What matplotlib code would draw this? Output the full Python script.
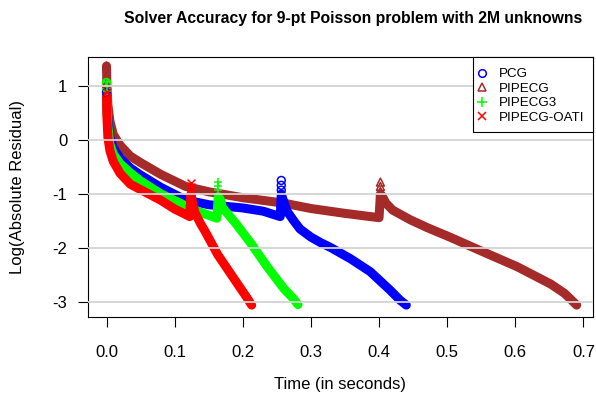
import matplotlib
matplotlib.use("Agg")
import matplotlib.pyplot as plt
from matplotlib.lines import Line2D
from matplotlib.patches import Rectangle

plt.rcParams["font.family"] = ["Liberation Sans", "DejaVu Sans"]

# ----------------------------
# Residual history (log10) per solver, time in seconds
# ----------------------------
# PIPECG
pipecg_t = [0.0, 0.0005, 0.002, 0.005, 0.010, 0.020, 0.035, 0.050, 0.080, 0.116,
            0.150, 0.200, 0.260, 0.300, 0.350, 0.400, 0.402, 0.405, 0.410, 0.420,
            0.446, 0.470, 0.504, 0.554, 0.603, 0.652, 0.672, 0.682, 0.690]
pipecg_r = [1.37, 1.00, 0.65, 0.35, 0.10, -0.10, -0.30, -0.42, -0.64, -0.86,
            -0.96, -1.07, -1.17, -1.27, -1.36, -1.44, -1.00, -1.05, -1.17, -1.30,
            -1.48, -1.62, -1.80, -2.08, -2.35, -2.67, -2.84, -2.96, -3.06]
pipecg_mk_t = [0.0, 0.0, 0.0, 0.402, 0.402, 0.402]
pipecg_mk_r = [1.37, 1.05, 0.90, -0.78, -0.86, -0.95]

# PCG
pcg_t = [0.0, 0.0005, 0.002, 0.005, 0.010, 0.020, 0.035, 0.050, 0.080, 0.116,
         0.150, 0.200, 0.230, 0.255, 0.2565, 0.259, 0.265, 0.275, 0.284, 0.300,
         0.314, 0.330, 0.358, 0.387, 0.416, 0.431, 0.440]
pcg_r = [0.88, 0.60, 0.35, 0.05, -0.15, -0.34, -0.52, -0.65, -0.88, -1.11,
         -1.20, -1.26, -1.32, -1.42, -1.00, -1.10, -1.32, -1.50, -1.65, -1.80,
         -1.90, -2.00, -2.20, -2.44, -2.78, -2.97, -3.06]
pcg_mk_t = [0.0, 0.2565, 0.2565, 0.2565]
pcg_mk_r = [0.88, -0.75, -0.84, -0.93]

# PIPECG3
pipecg3_t = [0.0, 0.0005, 0.002, 0.005, 0.010, 0.020, 0.035, 0.050, 0.080, 0.116,
             0.140, 0.162, 0.164, 0.167, 0.170, 0.180, 0.190, 0.211, 0.236, 0.260,
             0.275, 0.281]
pipecg3_r = [1.07, 0.65, 0.25, -0.08, -0.26, -0.44, -0.61, -0.76, -1.00, -1.22,
             -1.35, -1.45, -1.05, -1.10, -1.25, -1.40, -1.55, -1.90, -2.35, -2.75,
             -2.95, -3.05]
pipecg3_mk_t = [0.0, 0.0, 0.164, 0.164, 0.164]
pipecg3_mk_r = [1.07, 0.90, -0.78, -0.85, -0.92]

# PIPECG-OATI
oati_t = [0.0, 0.0005, 0.002, 0.005, 0.010, 0.020, 0.035, 0.050, 0.080, 0.100,
          0.116, 0.122, 0.124, 0.126, 0.130, 0.138, 0.145, 0.163, 0.186, 0.206,
          0.213]
oati_r = [0.85, 0.45, 0.05, -0.20, -0.40, -0.62, -0.82, -0.92, -1.12, -1.28,
          -1.38, -1.42, -1.00, -1.15, -1.35, -1.55, -1.70, -2.12, -2.55, -2.92,
          -3.06]
oati_mk_t = [0.0, 0.0, 0.124, 0.124]
oati_mk_r = [0.88, 0.80, -0.80, -0.88]

series = [
    ("PIPECG", pipecg_t, pipecg_r, pipecg_mk_t, pipecg_mk_r, "#A52A2A", "^"),
    ("PCG", pcg_t, pcg_r, pcg_mk_t, pcg_mk_r, "#0000FF", "o"),
    ("PIPECG3", pipecg3_t, pipecg3_r, pipecg3_mk_t, pipecg3_mk_r, "#00FF00", "+"),
    ("PIPECG-OATI", oati_t, oati_r, oati_mk_t, oati_mk_r, "#FF0000", "x"),
]
legend_order = ["PCG", "PIPECG", "PIPECG3", "PIPECG-OATI"]

W, H = 596, 396
fig = plt.figure(figsize=(W / 100, H / 100), dpi=100)
ax = fig.add_axes([87.5 / W, 1 - 317 / H, (593 - 87.5) / W, (317 - 57) / H])

for name, t, r, mt, mr, col, mk in series:
    ax.plot(t, r, color=col, lw=6.5, solid_capstyle="round", solid_joinstyle="round", zorder=2)
    filled = mk in ("+", "x")
    ax.scatter(mt, mr, marker=mk, s=32, linewidths=1.1,
               facecolors=col if filled else "none", edgecolors=col, zorder=3)

# horizontal reference lines drawn over the data
for yv in [1, 0, -1, -2, -3]:
    ax.axhline(yv, color="#d3d3d3", lw=1.3, zorder=4)

ax.set_xlim(-0.0279, 0.714)
ax.set_ylim(-3.28, 1.537)
ax.set_xticks([0.0, 0.1, 0.2, 0.3, 0.4, 0.5, 0.6, 0.7])
ax.set_xticklabels(["0.0", "0.1", "0.2", "0.3", "0.4", "0.5", "0.6", "0.7"])
ax.set_yticks([1, 0, -1, -2, -3])
ax.set_yticklabels(["1", "0", "-1", "-2", "-3"])
ax.tick_params(axis="x", direction="out", length=7.5, width=0.8, pad=13, labelsize=12)
ax.tick_params(axis="y", direction="out", length=7.5, width=0.8, pad=7, labelsize=12)
for sp in ax.spines.values():
    sp.set_linewidth(0.8)
    sp.set_color("black")

# legend box in the top right corner of the plot region
box = Rectangle((473 / W, 1 - 132 / H), (593 - 473) / W, (132 - 57) / H,
                transform=fig.transFigure, facecolor="white", edgecolor="black",
                lw=0.8, zorder=5)
fig.add_artist(box)

styles = {
    "PCG": dict(marker="o", mfc="none", mec="#0000FF", ms=5.5, mew=1.1),
    "PIPECG": dict(marker="^", mfc="none", mec="#A52A2A", ms=5.5, mew=1.1),
    "PIPECG3": dict(marker="+", color="#00FF00", ms=6.5, mew=1.1),
    "PIPECG-OATI": dict(marker="x", color="#FF0000", ms=5.5, mew=1.1),
}
handles = [Line2D([], [], ls="none", **styles[n]) for n in legend_order]
leg = fig.legend(handles, legend_order, loc="upper left",
                 bbox_to_anchor=(475.5 / W, 1 - 68 / H), borderaxespad=0,
                 borderpad=0, fontsize=9.6, frameon=False, handlelength=1.0,
                 handletextpad=0.75, labelspacing=0.16)
leg.set_zorder(6)

fig.text(353 / W, 1 - 18 / H, "Solver Accuracy for 9-pt Poisson problem with 2M unknowns",
         ha="center", va="center", fontsize=11.3, fontweight="bold")
fig.text(340 / W, 1 - 385 / H, "Time (in seconds)", ha="center", va="center", fontsize=12)
fig.text(18 / W, 1 - 187 / H, "Log(Absolute Residual)", ha="center", va="center",
         rotation=90, fontsize=12)

fig.savefig("out.png", dpi=100)
